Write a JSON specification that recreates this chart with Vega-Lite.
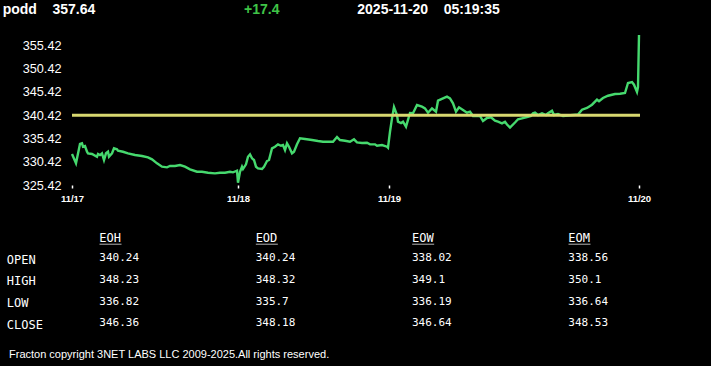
{
  "$schema": "https://vega.github.io/schema/vega-lite/v6.json",
  "width": 568,
  "height": 152,
  "autosize": {"type": "none"},
  "padding": {"left": 72, "top": 33, "right": 71, "bottom": 181},
  "background": "#000000",
  "config": {"view": {"stroke": null}},
  "layer": [
    {
      "layer": [
        {
          "data": {"values": [
            {"i":0,"p":332.08},{"i":4,"p":330.08},{"i":8,"p":334.23},{"i":10,"p":334.38},{"i":11,"p":333.65},{"i":13,"p":333.80},{"i":15,"p":332.57},{"i":16,"p":332.23},{"i":20,"p":332.08},{"i":25,"p":331.50},{"i":26,"p":332.08},{"i":28,"p":331.86},{"i":30,"p":332.23},{"i":32,"p":330.79},{"i":34,"p":332.23},{"i":36,"p":332.57},{"i":37,"p":331.50},{"i":40,"p":332.23},{"i":42,"p":333.30},{"i":45,"p":333.09},{"i":46,"p":332.79},{"i":51,"p":332.57},{"i":56,"p":332.23},{"i":63,"p":331.86},{"i":70,"p":331.65},{"i":76,"p":331.37},{"i":80,"p":330.94},{"i":85,"p":330.08},{"i":90,"p":329.35},{"i":95,"p":329.22},{"i":98,"p":329.50},{"i":103,"p":329.50},{"i":108,"p":329.71},{"i":113,"p":329.35},{"i":118,"p":328.79},{"i":125,"p":328.27},{"i":130,"p":328.27},{"i":136,"p":328.06},{"i":143,"p":327.93},{"i":148,"p":328.06},{"i":153,"p":328.06},{"i":158,"p":328.27},{"i":161,"p":328.14},{"i":165,"p":328.49},{"i":166,"p":325.91},{"i":168,"p":328.27},{"i":170,"p":329.35},{"i":171,"p":328.85},{"i":174,"p":329.86},{"i":176,"p":331.50},{"i":178,"p":332.01},{"i":180,"p":331.15},{"i":182,"p":330.79},{"i":184,"p":329.35},{"i":186,"p":329.00},{"i":190,"p":328.85},{"i":192,"p":329.35},{"i":195,"p":330.57},{"i":197,"p":330.79},{"i":200,"p":333.30},{"i":203,"p":333.65},{"i":206,"p":334.16},{"i":209,"p":333.86},{"i":211,"p":334.01},{"i":213,"p":332.94},{"i":215,"p":334.38},{"i":217,"p":333.65},{"i":220,"p":332.23},{"i":222,"p":332.57},{"i":225,"p":334.16},{"i":228,"p":335.45},{"i":233,"p":335.30},{"i":240,"p":335.09},{"i":246,"p":334.87},{"i":251,"p":334.72},{"i":256,"p":334.72},{"i":261,"p":334.72},{"i":265,"p":335.73},{"i":268,"p":335.09},{"i":273,"p":334.94},{"i":278,"p":334.72},{"i":282,"p":335.24},{"i":285,"p":334.59},{"i":290,"p":334.44},{"i":295,"p":334.51},{"i":298,"p":334.16},{"i":303,"p":334.16},{"i":305,"p":333.86},{"i":310,"p":334.01},{"i":315,"p":333.65},{"i":316,"p":333.43},{"i":318,"p":336.87},{"i":320,"p":339.75},{"i":322,"p":342.18},{"i":325,"p":340.46},{"i":326,"p":339.02},{"i":329,"p":338.74},{"i":331,"p":339.02},{"i":334,"p":337.95},{"i":338,"p":340.89},{"i":341,"p":340.83},{"i":345,"p":342.61},{"i":350,"p":342.25},{"i":353,"p":341.90},{"i":356,"p":340.96},{"i":360,"p":341.90},{"i":364,"p":341.17},{"i":366,"p":343.54},{"i":371,"p":344.05},{"i":375,"p":344.40},{"i":378,"p":344.05},{"i":381,"p":342.98},{"i":384,"p":341.17},{"i":387,"p":342.12},{"i":391,"p":341.54},{"i":395,"p":340.96},{"i":398,"p":341.20},{"i":401,"p":340.25},{"i":408,"p":340.25},{"i":411,"p":339.17},{"i":415,"p":339.82},{"i":419,"p":339.97},{"i":423,"p":339.24},{"i":426,"p":339.02},{"i":430,"p":338.68},{"i":433,"p":339.02},{"i":435,"p":338.42},{"i":438,"p":337.78},{"i":443,"p":338.85},{"i":446,"p":339.54},{"i":450,"p":339.75},{"i":455,"p":340.03},{"i":459,"p":340.25},{"i":461,"p":340.83},{"i":463,"p":340.96},{"i":466,"p":340.46},{"i":470,"p":340.83},{"i":474,"p":340.46},{"i":476,"p":340.83},{"i":480,"p":341.37},{"i":482,"p":340.46},{"i":486,"p":340.68},{"i":491,"p":340.25},{"i":496,"p":340.36},{"i":501,"p":340.46},{"i":506,"p":340.57},{"i":510,"p":341.60},{"i":515,"p":341.97},{"i":520,"p":342.68},{"i":525,"p":343.75},{"i":527,"p":343.41},{"i":531,"p":344.12},{"i":536,"p":344.61},{"i":543,"p":344.98},{"i":548,"p":345.04},{"i":553,"p":345.19},{"i":556,"p":347.34},{"i":560,"p":347.56},{"i":562,"p":346.98},{"i":565,"p":345.41},{"i":566,"p":346.48},{"i":567,"p":357.64}
          ]},
          "mark": {"type": "line", "color": "#46d96e", "strokeWidth": 2.4},
          "encoding": {
            "x": {
              "field": "i", "type": "quantitative",
              "scale": {"domain": [0, 568], "nice": false, "zero": false},
              "axis": {
                "values": [0, 166, 317, 567], "tickCount": 10,
                "labelExpr": "datum.value == 0 ? '11/17' : datum.value == 166 ? '11/18' : datum.value == 317 ? '11/19' : '11/20'",
                "title": null, "grid": false, "domain": false,
                "tickColor": "#ffffff", "tickSize": 3, "tickWidth": 1.5,
                "labelColor": "#ffffff", "labelFont": "Liberation Sans", "labelFontWeight": "bold",
                "labelFontSize": 9.5, "labelPadding": 5, "labelFlush": false, "labelOverlap": false
              }
            },
            "y": {
              "field": "p", "type": "quantitative",
              "scale": {"domain": [325.42, 358.09], "nice": false, "zero": false},
              "axis": {
                "values": [325.42, 330.42, 335.42, 340.42, 345.42, 350.42, 355.42], "tickCount": 10,
                "format": ".2f", "title": null, "grid": false, "domain": false, "ticks": false,
                "labelColor": "#ffffff", "labelFont": "Liberation Sans", "labelFontSize": 12.7,
                "labelPadding": 11, "labelOverlap": false, "labelFlush": false
              }
            }
          }
        },
        {
          "data": {"values": [{"ref": 340.42}]},
          "mark": {"type": "rule", "color": "#d8d870", "strokeWidth": 3},
          "encoding": {"y": {"field": "ref", "type": "quantitative"}}
        }
      ]
    },
    {
      "data": {"values": [{"item": "podd\u00a0\u00a0\u00a0\u00a0357.64"}, {"item": "2025-11-20\u00a0\u00a0\u00a0\u00a005:19:35"}]},
      "mark": {"type": "text", "align": "left", "baseline": "alphabetic", "font": "Liberation Sans", "fontWeight": "bold", "fontSize": 14, "color": "#ffffff"},
      "encoding": {
        "x": {"field": "item", "type": "nominal", "sort": null, "scale": {"type": "point", "range": [-69.3, 285.3], "padding": 0}, "axis": null},
        "y": {"datum": "header", "type": "nominal", "scale": {"type": "point", "range": [-19, -19], "padding": 0}, "axis": null},
        "text": {"field": "item"}
      }
    },
    {
      "data": {"values": [{"item": "+17.4"}]},
      "mark": {"type": "text", "align": "left", "baseline": "alphabetic", "font": "Liberation Sans", "fontWeight": "bold", "fontSize": 14, "color": "#3fc447"},
      "encoding": {
        "x": {"field": "item", "type": "nominal", "scale": {"type": "point", "range": [172, 172], "padding": 0}, "axis": null},
        "y": {"datum": "header", "type": "nominal", "scale": {"type": "point", "range": [-19, -19], "padding": 0}, "axis": null},
        "text": {"field": "item"}
      }
    },
    {
      "data": {"values": [{"col": "EOH"}, {"col": "EOD"}, {"col": "EOW"}, {"col": "EOM"}]},
      "mark": {"type": "text", "align": "left", "baseline": "middle", "font": "DejaVu Sans Mono", "fontSize": 12, "color": "#ffffff"},
      "encoding": {
        "x": {"field": "col", "type": "nominal", "scale": {"type": "point", "domain": ["EOH", "EOD", "EOW", "EOM"], "range": [27.3, 496.3], "padding": 0}, "axis": null},
        "y": {"datum": "colhead", "type": "nominal", "scale": {"type": "point", "range": [205.3, 205.3], "padding": 0}, "axis": null},
        "text": {"field": "col"}
      }
    },
    {
      "data": {"values": [{"col": "EOH"}, {"col": "EOD"}, {"col": "EOW"}, {"col": "EOM"}]},
      "mark": {"type": "tick", "orient": "horizontal", "size": 22, "thickness": 1, "color": "#ffffff"},
      "encoding": {
        "x": {"field": "col", "type": "nominal", "scale": {"type": "point", "domain": ["EOH", "EOD", "EOW", "EOM"], "range": [38.5, 507.5], "padding": 0}, "axis": null},
        "y": {"datum": "underline", "type": "nominal", "scale": {"type": "point", "range": [211.2, 211.2], "padding": 0}, "axis": null}
      }
    },
    {
      "data": {"values": [
        {"row": "OPEN", "col": "EOH", "val": "340.24"}, {"row": "OPEN", "col": "EOD", "val": "340.24"}, {"row": "OPEN", "col": "EOW", "val": "338.02"}, {"row": "OPEN", "col": "EOM", "val": "338.56"},
        {"row": "HIGH", "col": "EOH", "val": "348.23"}, {"row": "HIGH", "col": "EOD", "val": "348.32"}, {"row": "HIGH", "col": "EOW", "val": "349.1"}, {"row": "HIGH", "col": "EOM", "val": "350.1"},
        {"row": "LOW", "col": "EOH", "val": "336.82"}, {"row": "LOW", "col": "EOD", "val": "335.7"}, {"row": "LOW", "col": "EOW", "val": "336.19"}, {"row": "LOW", "col": "EOM", "val": "336.64"},
        {"row": "CLOSE", "col": "EOH", "val": "346.36"}, {"row": "CLOSE", "col": "EOD", "val": "348.18"}, {"row": "CLOSE", "col": "EOW", "val": "346.64"}, {"row": "CLOSE", "col": "EOM", "val": "348.53"}
      ]},
      "mark": {"type": "text", "align": "left", "baseline": "middle", "font": "DejaVu Sans Mono", "fontSize": 11, "color": "#ffffff"},
      "encoding": {
        "x": {"field": "col", "type": "nominal", "scale": {"type": "point", "domain": ["EOH", "EOD", "EOW", "EOM"], "range": [27.3, 496.3], "padding": 0}, "axis": null},
        "y": {"field": "row", "type": "nominal", "scale": {"type": "point", "domain": ["OPEN", "HIGH", "LOW", "CLOSE"], "range": [225.3, 290.3], "padding": 0}, "axis": null},
        "text": {"field": "val"}
      }
    },
    {
      "data": {"values": [{"row": "OPEN"}, {"row": "HIGH"}, {"row": "LOW"}, {"row": "CLOSE"}]},
      "mark": {"type": "text", "align": "left", "baseline": "middle", "font": "DejaVu Sans Mono", "fontSize": 12, "color": "#ffffff"},
      "encoding": {
        "x": {"datum": "label", "type": "nominal", "scale": {"type": "point", "range": [-65.2, -65.2], "padding": 0}, "axis": null},
        "y": {"field": "row", "type": "nominal", "scale": {"type": "point", "domain": ["OPEN", "HIGH", "LOW", "CLOSE"], "range": [226.8, 291.8], "padding": 0}, "axis": null},
        "text": {"field": "row"}
      }
    },
    {
      "data": {"values": [{"note": "Fracton copyright 3NET LABS LLC 2009-2025.All rights reserved."}]},
      "mark": {"type": "text", "align": "left", "baseline": "middle", "font": "Liberation Sans", "fontSize": 11, "color": "#ffffff"},
      "encoding": {
        "x": {"datum": "footer", "type": "nominal", "scale": {"type": "point", "range": [-63, -63], "padding": 0}, "axis": null},
        "y": {"datum": "footer", "type": "nominal", "scale": {"type": "point", "range": [322, 322], "padding": 0}, "axis": null},
        "text": {"field": "note"}
      }
    }
  ],
  "resolve": {"scale": {"x": "independent", "y": "independent"}}
}
